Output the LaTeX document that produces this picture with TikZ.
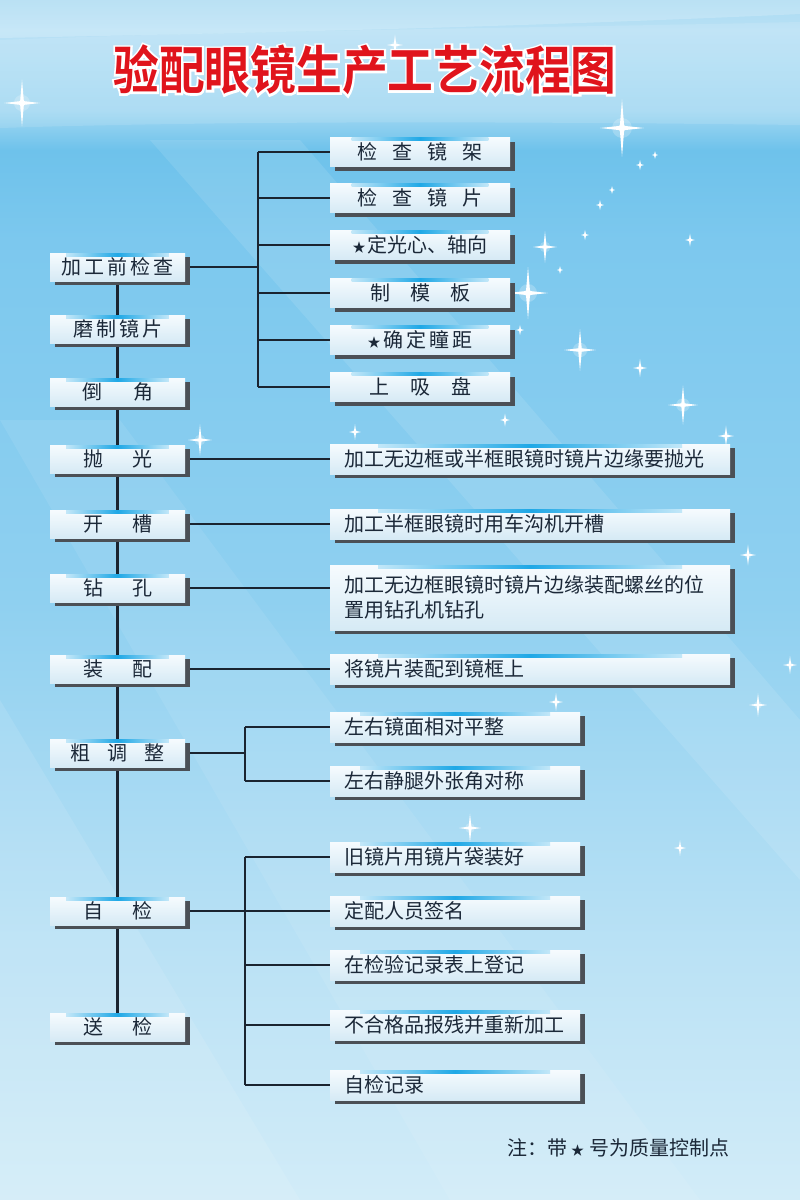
\documentclass[tikz,border=0pt]{standalone}
\usepackage{fontspec}
\newfontfamily\cjk{Noto Sans CJK SC}
\newfontfamily\titlefont[FakeStretch=0.88]{Noto Sans CJK SC Bold}
\newfontfamily\titlehalofont[FakeStretch=0.88,FakeBold=8]{Noto Sans CJK SC Bold}
\usetikzlibrary{shadows,calc}
\definecolor{navy}{HTML}{1B2838}
\definecolor{linec}{HTML}{1A2430}
\definecolor{boxtop}{HTML}{F6FBFE}
\definecolor{boxbot}{HTML}{D6EAF5}
\definecolor{shadowc}{HTML}{4B5056}
\definecolor{hl}{HTML}{1FA8E6}
\definecolor{titlered}{HTML}{E0141C}
\definecolor{bgA}{HTML}{D2ECF8}
\definecolor{bgB}{HTML}{BBE2F5}
\definecolor{bgC}{HTML}{8FD0F0}
\definecolor{bgD}{HTML}{7CC8EE}
\definecolor{bgE}{HTML}{6EC2EB}
\definecolor{bgF}{HTML}{A2D8F2}
\definecolor{bgG}{HTML}{B9E1F5}
\definecolor{bgH}{HTML}{A9DAF2}
\pgfdeclareverticalshading{bgshade}{100bp}{color(0bp)=(bgA); color(25bp)=(bgA); color(35bp)=(bgB); color(50bp)=(bgC); color(65bp)=(bgD); color(68.75bp)=(bgE); color(70.4bp)=(bgF); color(73.75bp)=(bgG); color(75bp)=(bgH); color(100bp)=(bgH)}
\pgfdeclarelayer{bglayer}
\pgfdeclarelayer{linelayer}
\pgfsetlayers{bglayer,linelayer,main}
\newcommand\gp[1]{\hspace{#1pt}}
\newcommand\smstar{{\fontsize{13}{13}\selectfont ★}}
\newcommand\spark[3]{%
  \fill[white,opacity=0.22] (#1,#2) circle ({0.45*#3});
  \fill[white,opacity=0.45] (#1,#2) circle ({0.18*#3});
  \fill[white] ({#1-#3},#2) -- ({#1-0.07*#3-0.6},{#2-0.07*#3-0.6}) -- (#1,{#2-1.3*#3}) -- ({#1+0.07*#3+0.6},{#2-0.07*#3-0.6}) -- ({#1+#3},#2) -- ({#1+0.07*#3+0.6},{#2+0.07*#3+0.6}) -- (#1,{#2+1.3*#3}) -- ({#1-0.07*#3-0.6},{#2+0.07*#3+0.6}) -- cycle;}
\tikzset{
  box/.style={rectangle, inner sep=0pt, top color=boxtop, bottom color=boxbot, text=navy,
    font=\cjk\fontsize{20}{25}\selectfont,
    general shadow={fill=shadowc, shadow xshift=5pt, shadow yshift=-4pt},
    path picture={\shade[left color=boxtop, right color=boxtop, middle color=hl]
      ($(path picture bounding box.north west)!0.12!(path picture bounding box.north east)$) rectangle
      ($(path picture bounding box.north west)!0.88!(path picture bounding box.north east)+(0,3)$);}},
  lbox/.style={box, minimum width=135pt, minimum height=28pt},
  gbox/.style={box, minimum width=180pt, minimum height=29pt},
  wbox/.style={box, text width=372pt, inner xsep=14pt, minimum height=30pt, align=left},
  mbox/.style={box, text width=222pt, inner xsep=14pt, minimum height=30pt, align=left},
  conn/.style={draw=linec, line width=2.5pt},
  titlehalo/.style={text=white, font=\titlehalofont\fontsize{52}{52}\selectfont, inner sep=0pt},
  titletext/.style={text=titlered, font=\titlefont\fontsize{52}{52}\selectfont, inner sep=0pt},
  note/.style={text=navy, font=\cjk\fontsize{20}{22}\selectfont, inner sep=0pt}
}
\begin{document}
\begin{tikzpicture}[x=1pt,y=-1pt]
\useasboundingbox (0,0) rectangle (800,1200);
\begin{pgfonlayer}{bglayer}
  \fill[shading=bgshade] (0,0) rectangle (800,1200);
  \fill[white,opacity=0.2] (0,0) -- (800,0) -- (800,14) .. controls (500,28) and (200,34) .. (0,38) -- cycle;
  \fill[white,opacity=0.12] (0,40) .. controls (250,30) and (550,28) .. (800,22) -- (800,125) .. controls (550,122) and (250,120) .. (0,128) -- cycle;
  \fill[white,opacity=0.10] (150,140) -- (300,140) -- (800,720) -- (800,880) -- cycle;
  \fill[white,opacity=0.08] (0,420) -- (120,420) -- (700,1200) -- (450,1200) -- cycle;
  \fill[white,opacity=0.10] (0,700) -- (0,1200) -- (300,1200) -- cycle;
  \spark{22}{103}{18}
  \spark{395}{45}{8}
  \spark{622}{128}{22}
  \spark{605}{52}{6}
  \spark{545}{247}{12}
  \spark{528}{293}{20}
  \spark{580}{350}{16}
  \spark{640}{368}{7}
  \spark{683}{405}{15}
  \spark{726}{436}{8}
  \spark{200}{440}{12}
  \spark{355}{432}{6}
  \spark{748}{555}{8}
  \spark{790}{665}{7}
  \spark{758}{705}{9}
  \spark{470}{828}{11}
  \spark{556}{702}{7}
  \spark{690}{240}{5}
  \spark{600}{205}{4}
  \spark{612}{190}{3}
  \spark{585}{235}{4}
  \spark{560}{270}{3}
  \spark{640}{165}{4}
  \spark{655}{155}{3}
  \spark{520}{330}{4}
  \spark{505}{420}{5}
  \spark{680}{848}{6}
\end{pgfonlayer}

% title: white halo (emboldened copy) under the red text
\node[titlehalo] (thalo) at (365,70) {验配眼镜生产工艺流程图};
\node[titletext] (title) at (365,70) {验配眼镜生产工艺流程图};

% left column
\node[lbox] (L1) at (117.5,267) {加\gp{3}工\gp{3}前\gp{3}检\gp{3}查};
\node[lbox] (L2) at (117.5,329) {磨\gp{3}制\gp{3}镜\gp{3}片};
\node[lbox] (L3) at (117.5,392) {倒\gp{31}角};
\node[lbox] (L4) at (117.5,459) {抛\gp{29}光};
\node[lbox] (L5) at (117.5,524) {开\gp{29}槽};
\node[lbox] (L6) at (117.5,588) {钻\gp{29}孔};
\node[lbox] (L7) at (117.5,669) {装\gp{29}配};
\node[lbox] (L8) at (117.5,753) {粗\gp{17}调\gp{17}整};
\node[lbox] (L9) at (117.5,911) {自\gp{29}检};
\node[lbox] (L10) at (117.5,1027) {送\gp{29}检};

% first group
\node[gbox] (G1) at (420,152) {检\gp{15}查\gp{15}镜\gp{15}架};
\node[gbox] (G2) at (420,198) {检\gp{15}查\gp{15}镜\gp{15}片};
\node[gbox] (G3) at (420,245) {\smstar\gp{2}定光心、轴向};
\node[gbox] (G4) at (420,293) {制\gp{20}模\gp{20}板};
\node[gbox] (G5) at (420,340) {\smstar\gp{3}确\gp{3}定\gp{3}瞳\gp{3}距};
\node[gbox] (G6) at (420,387) {上\gp{21}吸\gp{21}盘};

% wide boxes
\node[wbox] (W1) at (530,459) {加工无边框或半框眼镜时镜片边缘要抛光};
\node[wbox] (W2) at (530,524) {加工半框眼镜时用车沟机开槽};
\node[wbox, minimum height=65pt] (W3) at (530,597.5) {加工无边框眼镜时镜片边缘装配螺丝的位\\置用钻孔机钻孔};
\node[wbox] (W4) at (530,669) {将镜片装配到镜框上};

% adjust group
\node[mbox] (M1) at (455,727) {左右镜面相对平整};
\node[mbox] (M2) at (455,781) {左右静腿外张角对称};

% self-check group
\node[mbox] (S1) at (455,857) {旧镜片用镜片袋装好};
\node[mbox] (S2) at (455,911) {定配人员签名};
\node[mbox] (S3) at (455,965) {在检验记录表上登记};
\node[mbox] (S4) at (455,1025) {不合格品报残并重新加工};
\node[mbox] (S5) at (455,1085) {自检记录};

\node[note] (note) at (618,1148) {注：带\gp{4}\smstar\gp{5}号为质量控制点};

\coordinate (B1) at (258,267);
\coordinate (B2) at (245,753);
\coordinate (B3) at (245,911);

\begin{pgfonlayer}{linelayer}
  \draw[conn] (L1) -- (L2);
  \draw[conn] (L2) -- (L3);
  \draw[conn] (L3) -- (L4);
  \draw[conn] (L4) -- (L5);
  \draw[conn] (L5) -- (L6);
  \draw[conn] (L6) -- (L7);
  \draw[conn] (L7) -- (L8);
  \draw[conn] (L8) -- (L9);
  \draw[conn] (L9) -- (L10);
  \draw[conn] (L1) -- (B1);
  \draw[conn] (B1 |- G1) -- (B1 |- G6);
  \foreach \g in {G1,G2,G3,G4,G5,G6} \draw[conn] (B1 |- \g) -- (\g);
  \draw[conn] (L4) -- (W1);
  \draw[conn] (L5) -- (W2);
  \draw[conn] (L6.east) -- (L6.east -| W3.west);
  \draw[conn] (L7) -- (W4);
  \draw[conn] (L8) -- (B2);
  \draw[conn] (B2 |- M1) -- (B2 |- M2);
  \foreach \m in {M1,M2} \draw[conn] (B2 |- \m) -- (\m);
  \draw[conn] (L9) -- (B3);
  \draw[conn] (B3 |- S1) -- (B3 |- S5);
  \foreach \s in {S1,S2,S3,S4,S5} \draw[conn] (B3 |- \s) -- (\s);
\end{pgfonlayer}
\end{tikzpicture}
\end{document}
